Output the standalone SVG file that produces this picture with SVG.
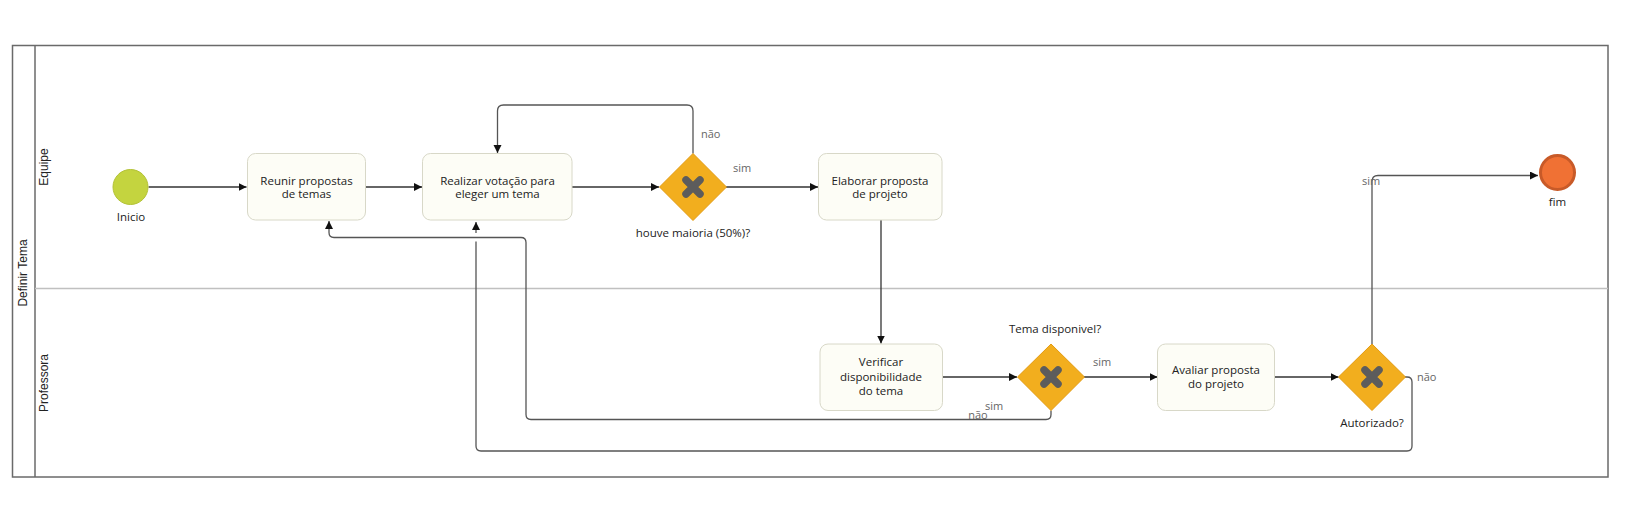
<svg xmlns="http://www.w3.org/2000/svg" width="1629" height="508" viewBox="0 0 1629 508">
<style>
.pool{fill:#fff;stroke:#6a6a6a;stroke-width:1.5}
.hdr{fill:none;stroke:#6a6a6a;stroke-width:1.5}
.div{fill:none;stroke:#c0c0c0;stroke-width:1.5}
.lt{font-family:"Liberation Sans",Arial,sans-serif;font-size:12px;fill:#222}
.task{fill:#fdfdf6;stroke:#d8d8c8;stroke-width:1}
.t{font-family:"Open Sans","Liberation Sans",sans-serif;font-size:11.5px;fill:#222;text-anchor:middle}
.lbl{font-family:"Open Sans","Liberation Sans",sans-serif;font-size:11px;fill:#666}
.gw{fill:#f2ae1e;stroke:#e39b12;stroke-width:1}
.x{stroke:#5c5c5c;stroke-width:7.5;stroke-linecap:round;fill:none}
.c{fill:none;stroke:#333;stroke-width:1.3}
.cg{fill:none;stroke:#555;stroke-width:1.3}
</style>
<defs>
<marker id="ah" markerUnits="userSpaceOnUse" markerWidth="9" markerHeight="9" refX="8" refY="4" orient="auto"><path d="M0,0 L8,4 L0,8 z" fill="#111"/></marker>
</defs>
<g id="pool">
<rect class="pool" x="12.5" y="45.5" width="1595.5" height="431.5"/>
<line class="hdr" x1="35" y1="45.5" x2="35" y2="477"/>
<line class="div" x1="35" y1="288.5" x2="1608" y2="288.5"/>
<text class="lt" transform="translate(27,273) rotate(-90)" text-anchor="middle">Definir Tema</text>
<text class="lt" transform="translate(48,167) rotate(-90)" text-anchor="middle">Equipe</text>
<text class="lt" transform="translate(48,383) rotate(-90)" text-anchor="middle">Professora</text>
</g>
<g id="connectors">
<path class="c" d="M148.5,187 L246.5,187" marker-end="url(#ah)"/>
<path class="c" d="M366,187 L422,187" marker-end="url(#ah)"/>
<path class="c" d="M572,187 L659,187" marker-end="url(#ah)"/>
<path class="c" d="M726,187 L818,187" marker-end="url(#ah)"/>
<text class="lbl" x="742" y="172" text-anchor="middle">sim</text>
<path class="cg" d="M693,153.5 L693,111 Q693,105 687,105 L503.5,105 Q497.5,105 497.5,111 L497.5,153" marker-end="url(#ah)"/>
<text class="lbl" x="701" y="138">não</text>
<path class="c" d="M881,220 L881,343.5" marker-end="url(#ah)"/>
<path class="c" d="M942.5,377 L1017,377" marker-end="url(#ah)"/>
<path class="c" d="M1084,377 L1157.5,377" marker-end="url(#ah)"/>
<text class="lbl" x="1102" y="366" text-anchor="middle">sim</text>
<path class="c" d="M1274.5,377 L1338.5,377" marker-end="url(#ah)"/>
<path class="cg" d="M1372,344 L1372,181.5 Q1372,175.5 1378,175.5 L1538,175.5" marker-end="url(#ah)"/>
<text class="lbl" x="1371" y="185" text-anchor="middle">sim</text>
<path class="cg" d="M1051,410.5 L1051,414.5 Q1051,419.5 1046,419.5 L531,419.5 Q526,419.5 526,414.5 L526,242.5 Q526,237.5 521,237.5 L334,237.5 Q329,237.5 329,232.5 L329,221" marker-end="url(#ah)"/>
<text class="lbl" x="994" y="410" text-anchor="middle">sim</text>
<text class="lbl" x="978" y="419" text-anchor="middle">não</text>
<path class="cg" d="M1405,377 L1407,377 Q1412,377 1412,382 L1412,446 Q1412,451 1407,451 L481,451 Q476,451 476,446 L476,241.5"/>
<path class="cg" d="M476,233 L476,222" marker-end="url(#ah)"/>
<text class="lbl" x="1417" y="381">não</text>
</g>
<g id="start">
<circle cx="130.5" cy="187" r="17.5" fill="#c4d43f" stroke="#b3c236" stroke-width="1"/>
<text class="t" x="131" y="221">Inicio</text>
</g>
<g id="reunir">
<rect class="task" x="247.5" y="153.5" width="118" height="66.5" rx="8"/>
<text class="t" x="306.5" y="184.5">Reunir propostas</text>
<text class="t" x="306.5" y="198">de temas</text>
</g>
<g id="realizar">
<rect class="task" x="422.5" y="153.5" width="149.5" height="66.5" rx="8"/>
<text class="t" x="497.5" y="184.5">Realizar votação para</text>
<text class="t" x="497.5" y="198">eleger um tema</text>
</g>
<g id="gw1">
<path class="gw" d="M693,153.5 L726.5,187 L693,220.5 L659.5,187 z"/>
<path class="x" d="M686,180 L700,194 M700,180 L686,194"/>
<text class="t" x="693" y="236.5">houve maioria (50%)?</text>
</g>
<g id="elaborar">
<rect class="task" x="818.5" y="153.5" width="123.5" height="66.5" rx="8"/>
<text class="t" x="880" y="184.5">Elaborar proposta</text>
<text class="t" x="880" y="198">de projeto</text>
</g>
<g id="verificar">
<rect class="task" x="820" y="344" width="122.5" height="66.5" rx="8"/>
<text class="t" x="881" y="366">Verificar</text>
<text class="t" x="881" y="380.5">disponibilidade</text>
<text class="t" x="881" y="394.5">do tema</text>
</g>
<g id="gw2">
<path class="gw" d="M1051,344 L1084.5,377 L1051,410.5 L1017.5,377 z"/>
<path class="x" d="M1044,370 L1058,384 M1058,370 L1044,384"/>
<text class="t" x="1055" y="332.5">Tema disponivel?</text>
</g>
<g id="avaliar">
<rect class="task" x="1157.5" y="344" width="117" height="66.5" rx="8"/>
<text class="t" x="1216" y="373.5">Avaliar proposta</text>
<text class="t" x="1216" y="387.5">do projeto</text>
</g>
<g id="gw3">
<path class="gw" d="M1372,344 L1405.5,377 L1372,410.5 L1338.5,377 z"/>
<path class="x" d="M1365,370 L1379,384 M1379,370 L1365,384"/>
<text class="t" x="1372" y="426.5">Autorizado?</text>
</g>
<g id="fim">
<circle cx="1557.5" cy="172.5" r="17" fill="#f07134" stroke="#c85a28" stroke-width="3"/>
<text class="t" x="1557.5" y="206">fim</text>
</g>
</svg>
